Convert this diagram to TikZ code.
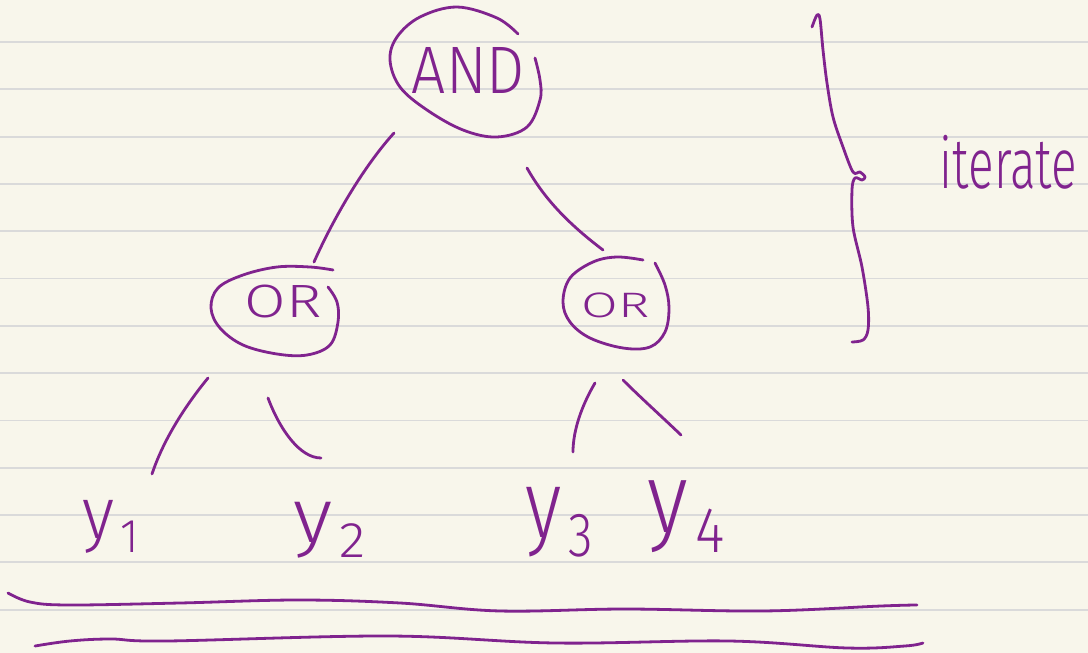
\documentclass[tikz,border=0pt]{standalone}
\usepackage{fontspec}
\setmainfont{Fira Sans}[UprightFont=* Light]
\usepackage{graphicx}
\definecolor{paper}{HTML}{F8F6EB}
\definecolor{rulegray}{HTML}{DADADA}
\definecolor{ink}{HTML}{80238E}
\tikzset{
  pen/.style={draw=ink, line width=2.8pt, line cap=round, line join=round},
  ruling/.style={draw=rulegray, line width=1.8pt},
  word/.style={text=ink, inner sep=0pt, outer sep=0pt},
}
% scale a piece of text to a given width and total height (in pt)
\newcommand\fitbox[3]{\resizebox*{#1pt}{#2pt}{#3}}
% a variable name with its index set low and small
\newcommand\ylab[1]{y\kern0.08em\raisebox{-0.2em}{\scalebox{0.65}{#1}}}
\begin{document}
\begin{tikzpicture}[x=1pt,y=-1pt]
% ruled paper
\fill[paper] (0,0) rectangle (1088,653);
\useasboundingbox (0,0) rectangle (1088,653);
\foreach \k in {0,...,12} \draw[ruling] (0,{42+47.3*\k}) -- (1088,{42+47.3*\k});

% gate labels
\node[word] (and) at (468.5,70) {\fitbox{113}{46}{AND}};
\node[word] (orL) at (283.5,301.5) {\fitbox{77}{33}{OR}};
\node[word] (orR) at (616,305.5) {\fitbox{68}{25}{OR}};

% leaf labels
\node[word] (y1) at (111,526.5) {\fitbox{56}{53}{\ylab{1}}};
\node[word] (y2) at (330,530) {\fitbox{72}{56}{\ylab{2}}};
\node[word] (y3) at (559.5,522) {\fitbox{67}{70}{\ylab{3}}};
\node[word] (y4) at (686.5,517) {\fitbox{77}{72}{\ylab{4}}};

% side note
\node[word] (iter) at (1008.5,162) {\fitbox{137}{54}{iterate}};

% hand-drawn rings round the gates
\draw[pen] plot[smooth, tension=0.6] coordinates {(518,34) (497,18) (457,7) (420,17) (397,37) (390,60) (400,87) (427,110) (463,130) (497,137) (527,127) (540,100) (540,80) (535,58)};
\draw[pen] plot[smooth, tension=0.6] coordinates {(333,270) (310,267) (277,267) (243,275) (218,288) (211,308) (220,328) (243,345) (277,354) (307,355) (330,345) (338,322) (337,302) (328,287)};
\draw[pen] plot[smooth, tension=0.6] coordinates {(643,260) (617,257) (593,262) (570,278) (563,302) (570,322) (590,338) (623,348) (650,347) (665,332) (669,308) (665,285) (655,263)};

% connector ends
\coordinate (and-l) at (394,133);
\coordinate (and-r) at (527,168);
\coordinate (orL-t) at (314,262);
\coordinate (orR-t) at (603,250);
\coordinate (orL-l) at (208,378);
\coordinate (orL-r) at (268,398);
\coordinate (orR-l) at (595,383);
\coordinate (orR-r) at (623,380);
\coordinate (y1-t) at (152,474);
\coordinate (y2-t) at (321,458);
\coordinate (y3-t) at (573,452);
\coordinate (y4-t) at (681,435);

% tree edges
\draw[pen] (and-l) .. controls (365,165) and (335,215) .. (orL-t);
\draw[pen] (and-r) .. controls (545,200) and (570,225) .. (orR-t);
\draw[pen] (orL-l) .. controls (190,400) and (165,435) .. (y1-t);
\draw[pen] (orL-r) .. controls (280,430) and (300,458) .. (y2-t);
\draw[pen] (orR-l) .. controls (582,405) and (573,430) .. (y3-t);
\draw[pen] (orR-r) .. controls (640,397) and (660,415) .. (y4-t);

% brace beside the tree
\draw[pen] plot[smooth, tension=0.55] coordinates {(812,27) (817,15) (820,19) (823,50) (827,83) (833,117) (843,147) (853,172) (860,172) (865,177) (862,180) (855,178) (852,190) (853,227) (862,267) (868,307) (868,330) (863,340) (852,342)};

% double underline
\draw[pen] plot[smooth, tension=0.6] coordinates {(8,593) (30,602) (69,605) (180,603) (298,600) (400,603) (500,611) (625,609) (763,611) (881,606) (917,605)};
\draw[pen] plot[smooth, tension=0.6] coordinates {(35,646) (70,641) (111,639) (167,641) (389,636) (555,643) (729,641) (847,648) (905,646) (923,643)};
\end{tikzpicture}
\end{document}
